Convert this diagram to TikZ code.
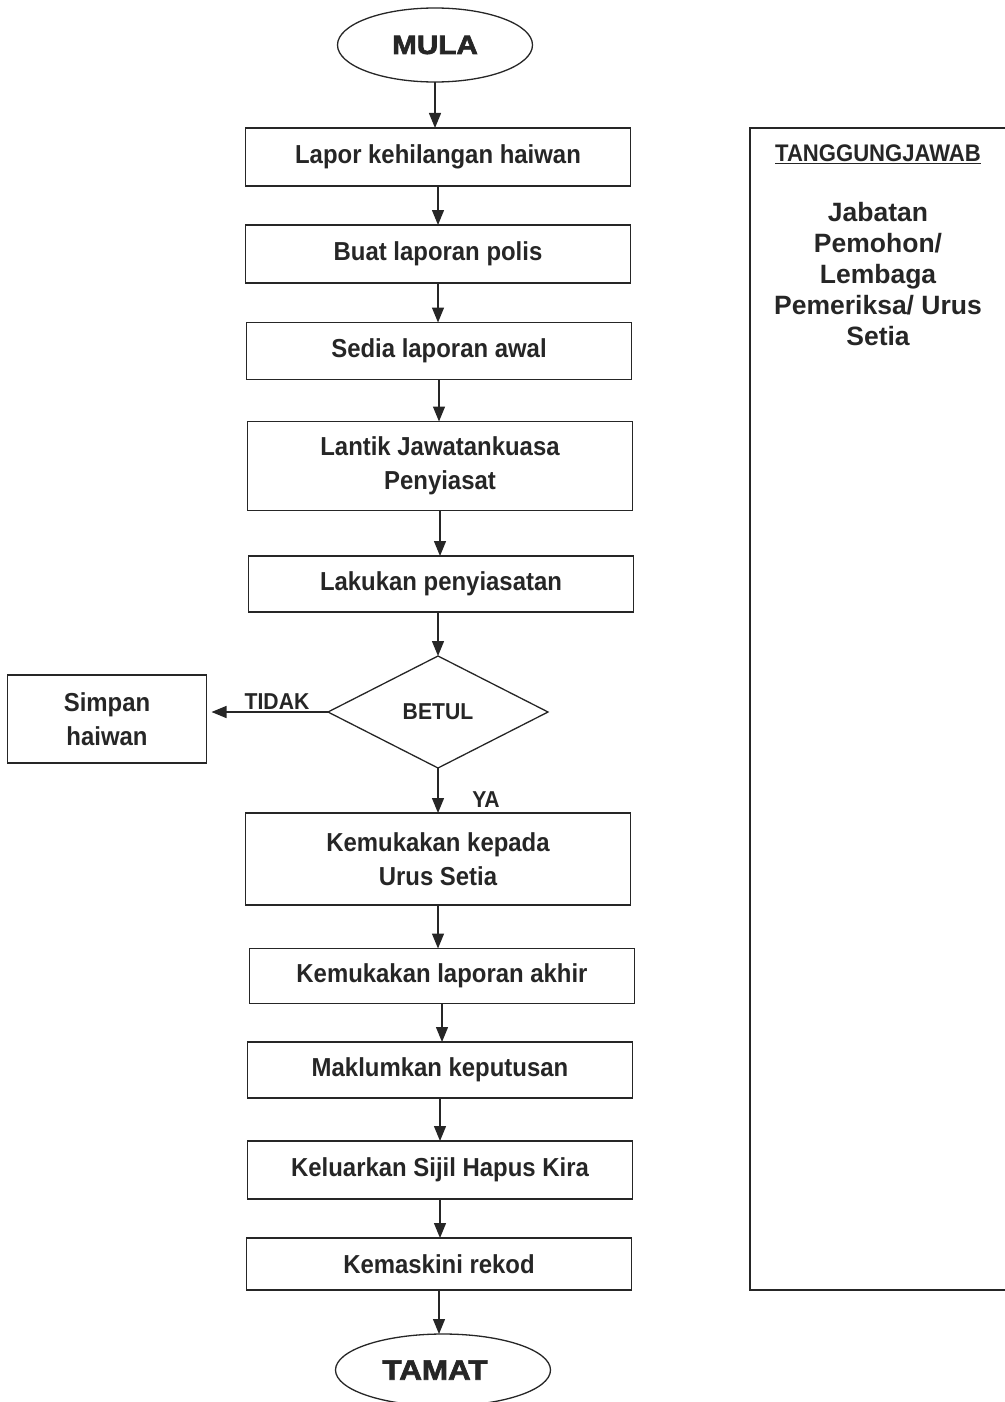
\documentclass[tikz,border=0pt]{standalone}
\usepackage{fontspec}
\setmainfont{Liberation Sans}
\newfontfamily\narrowbold[FakeStretch=0.92]{Liberation Sans Bold}
\newfontfamily\heavybold[FakeStretch=1.12,FakeBold=2.5]{Liberation Sans Bold}
\usetikzlibrary{shapes.geometric,arrows.meta}
\begin{document}
\begin{tikzpicture}[x=1pt,y=-1pt,
  every node/.style={inner sep=0pt, outer sep=0pt, text=black!85},
  line/.style={draw=black!85, line width=1.3pt},
  boxfont/.style={font=\narrowbold\fontsize{26}{34}\selectfont},
  stepbox/.style={line, rectangle, minimum width=385pt, align=center, boxfont},
  terminal/.style={line, ellipse},
  decision/.style={line, diamond, minimum width=220pt, minimum height=112pt,
    aspect=2, font=\narrowbold\fontsize{23}{26}\selectfont},
  lbl/.style={font=\narrowbold\fontsize{23}{26}\selectfont},
  arr/.style={line, -{Triangle[width=12pt,length=15pt]}},
  sidetext/.style={font=\bfseries\fontsize{26.5}{31}\selectfont, align=center}
]
\useasboundingbox (0,0) rectangle (1004,1402);

% start and end terminals
\node[terminal, minimum width=195pt, minimum height=74pt,
  font=\heavybold\fontsize{26.5}{28}\selectfont] (mula) at (435,45) {MULA};
\node[terminal, minimum width=215pt, minimum height=72pt,
  font=\heavybold\fontsize{28}{30}\selectfont] (tamat) at (443,1370) {\hspace*{-16pt}TAMAT};

% process steps
\node[stepbox, minimum height=58pt] (s1) at (438,157) {Lapor kehilangan haiwan};
\node[stepbox, minimum height=58pt] (s2) at (438,254) {Buat laporan polis};
\node[stepbox, minimum height=57pt] (s3) at (439,351) {Sedia laporan awal};
\node[stepbox, minimum height=89pt] (s4) at (440,466) {Lantik Jawatankuasa\\Penyiasat};
\node[stepbox, minimum height=56pt] (s5) at (441,584) {Lakukan penyiasatan};
\node[decision] (d) at (438,712) {BETUL};
\node[line, rectangle, minimum width=199pt, minimum height=88pt, align=center,
  boxfont] (simpan) at (107,719) {Simpan\\haiwan};
\node[stepbox, minimum height=92pt] (s6) at (438,859) {Kemukakan kepada\\Urus Setia};
\node[stepbox, minimum height=55pt] (s7) at (442,976) {Kemukakan laporan akhir};
\node[stepbox, minimum height=56pt] (s8) at (440,1070) {Maklumkan keputusan};
\node[stepbox, minimum height=58pt] (s9) at (440,1170) {Keluarkan Sijil Hapus Kira};
\node[stepbox, minimum height=52pt] (s10) at (439,1264) {Kemaskini rekod};

% branch labels
\node[lbl] (tidak) at (277,702) {TIDAK};
\node[lbl] (ya) at (486,800) {YA};

% connectors
\draw[arr] (mula.south) -- (mula.south |- s1.north);
\draw[arr] (s1.south) -- (s1.south |- s2.north);
\draw[arr] (s2.south) -- (s2.south |- s3.north);
\draw[arr] (s3.south) -- (s3.south |- s4.north);
\draw[arr] (s4.south) -- (s4.south |- s5.north);
\draw[arr] ([xshift=-3pt]s5.south) -- ([xshift=-3pt]s5.south |- d.north);
\draw[arr] (d.south) -- (d.south |- s6.north);
\draw[arr] (d.west) -- ([xshift=5pt]d.west -| simpan.east);
\draw[arr] (s6.south) -- (s6.south |- s7.north);
\draw[arr] (s7.south) -- (s7.south |- s8.north);
\draw[arr] (s8.south) -- (s8.south |- s9.north);
\draw[arr] (s9.south) -- (s9.south |- s10.north);
\draw[arr] (s10.south) -- (s10.south |- tamat.north);

% responsibility panel
\coordinate (pa) at (750,128);
\coordinate (pb) at (1010,1290);
\draw[line] (pb |- pa) -- (pa) -- (pa |- pb) -- (pb);
\node[font=\narrowbold\fontsize{24}{26}\selectfont] (resp) at (878,154) {\underline{TANGGUNGJAWAB}};
\node[sidetext, anchor=north] (who) at (878,202) {Jabatan\\Pemohon/\\Lembaga\\Pemeriksa/ Urus\\Setia};
\end{tikzpicture}
\end{document}
